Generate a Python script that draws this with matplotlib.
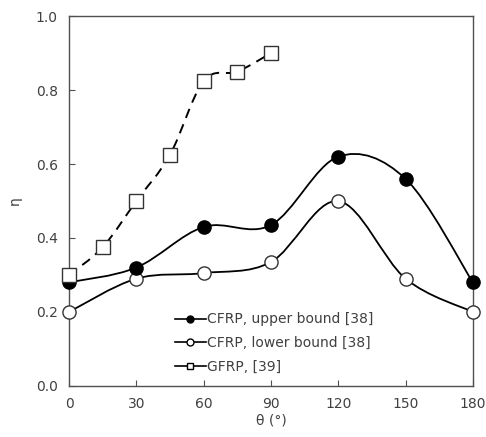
import numpy as np
import matplotlib
matplotlib.use("Agg")
import matplotlib.pyplot as plt
from matplotlib.path import Path
from matplotlib.patches import PathPatch
from matplotlib.lines import Line2D

# Data
theta_cfrp = [0, 30, 60, 90, 120, 150, 180]
cfrp_upper = [0.28, 0.32, 0.43, 0.435, 0.62, 0.56, 0.28]
cfrp_lower = [0.20, 0.29, 0.305, 0.335, 0.50, 0.29, 0.20]

theta_gfrp = [0, 15, 30, 45, 60, 75, 90]
gfrp = [0.30, 0.375, 0.50, 0.625, 0.825, 0.85, 0.90]

labels = ["CFRP, upper bound [38]", "CFRP, lower bound [38]", "GFRP, [39]"]

grey = "#505050"
txt = "#404040"


def smooth_path(x, y):
    # Excel style smoothed line: cubic bezier with catmull-rom control points
    p = np.column_stack([x, y]).astype(float)
    pp = np.vstack([p[0], p, p[-1]])
    verts = [p[0]]
    codes = [Path.MOVETO]
    for i in range(len(p) - 1):
        a, b, c, d = pp[i], pp[i + 1], pp[i + 2], pp[i + 3]
        verts += [b + (c - a) / 6, c - (d - b) / 6, c]
        codes += [Path.CURVE4] * 3
    return Path(verts, codes)


fig = plt.figure(figsize=(4.86, 4.37), dpi=100)
ax = fig.add_axes([0.142, 0.117, 0.831, 0.846])

# smoothed lines
ax.add_patch(PathPatch(smooth_path(theta_cfrp, cfrp_upper), fill=False, lw=1.3, ec="black", zorder=2))
ax.add_patch(PathPatch(smooth_path(theta_cfrp, cfrp_lower), fill=False, lw=1.3, ec="black", zorder=2))
ax.add_patch(PathPatch(smooth_path(theta_gfrp, gfrp), fill=False, lw=1.4, ec="black",
                       ls=(0, (5, 3.5)), zorder=2))

# markers
ax.plot(theta_cfrp, cfrp_upper, ls="none", marker="o", ms=9.5, mfc="black", mec="black", zorder=4, clip_on=False)
ax.plot(theta_cfrp, cfrp_lower, ls="none", marker="o", ms=9.5, mfc="white", mec="#333333", mew=1, zorder=3, clip_on=False)
ax.plot(theta_gfrp, gfrp, ls="none", marker="s", ms=10, mfc="white", mec="#333333", mew=1, zorder=5, clip_on=False)

ax.set_xlim(0, 180)
ax.set_ylim(0, 1.0)
ax.set_xticks(np.arange(0, 181, 30))
ax.set_yticks(np.arange(0, 1.01, 0.2))
ax.yaxis.set_major_formatter(matplotlib.ticker.FormatStrFormatter("%.1f"))
ax.tick_params(direction="in", length=4, color=grey, labelcolor=txt, labelsize=10, pad=8)
for s in ax.spines.values():
    s.set_color(grey)
    s.set_linewidth(1)

ax.set_xlabel("θ (°)", color=txt, fontsize=10, labelpad=2)
ax.set_ylabel("η", color=txt, fontsize=10, labelpad=10)

handles = [
    Line2D([], [], color="black", lw=1.2, marker="o", ms=5, mfc="black", mec="black"),
    Line2D([], [], color="black", lw=1.2, marker="o", ms=5, mfc="white", mec="black"),
    Line2D([], [], color="black", lw=1.2, marker="s", ms=5, mfc="white", mec="black"),
]
ax.legend(handles, labels, loc="lower left", bbox_to_anchor=(0.232, 0.0), frameon=False,
          fontsize=10, handlelength=2.2, handletextpad=0.1, labelspacing=0.68, labelcolor=txt)

fig.savefig("out.png", dpi=100)
